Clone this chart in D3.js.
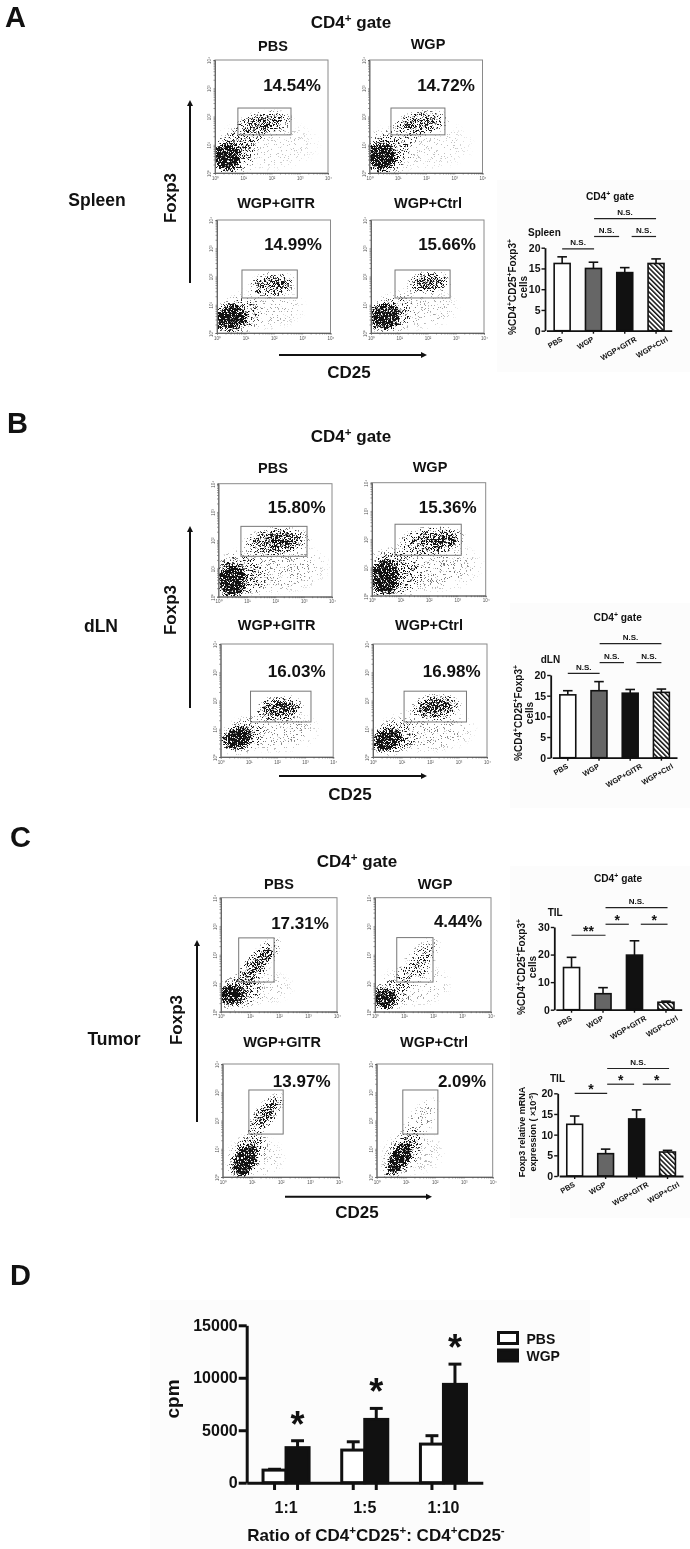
<!DOCTYPE html>
<html>
<head>
<meta charset="utf-8">
<script src="https://cdnjs.cloudflare.com/ajax/libs/d3/7.8.5/d3.min.js"></script>
<style>
  html, body { margin: 0; padding: 0; background: #fff; }
  svg { display: block; filter: blur(0.35px); }
  text { font-family: "Liberation Sans", Arial, sans-serif; font-weight: bold; fill: #111; }
</style>
</head>
<body>
<script>
var width = 690, height = 1549;

// bar chart values
var groups = ["PBS", "WGP", "WGP+GITR", "WGP+Ctrl"];
var spleenMean = [16.2, 15, 14, 16.2];
var spleenTop = [17.8, 16.5, 15.2, 17.3];
var dlnMean = [15.2, 16.2, 15.6, 15.8];
var dlnTop = [16.2, 18.4, 16.5, 16.6];
var tilMean = [15.3, 5.8, 19.8, 2.7];
var tilTop = [19, 8, 25, 3.1];
var mrnaMean = [12.5, 5.4, 13.8, 5.8];
var mrnaTop = [14.5, 6.5, 16, 6.2];

// significance bars: from group, to group, label, level on the y axis
var spleenSig = [[0, 1.02, "N.S.", 19.7], [1.02, 1.82, "N.S.", 22.7], [2.22, 3, "N.S.", 22.7], [1.02, 3, "N.S.", 27]];
var dlnSig = [[0, 1.02, "N.S.", 20.4], [1.02, 1.8, "N.S.", 23], [2.2, 3, "N.S.", 23], [1.02, 3, "N.S.", 27.6]];
var tilSig = [[0, 1.08, "**", 27], [1.08, 1.82, "*", 31], [2.2, 3.05, "*", 31], [1.08, 3.05, "N.S.", 37]];
var mrnaSig = [[0, 1.05, "*", 20], [1.05, 1.92, "*", 22.2], [2.2, 3.1, "*", 22.2], [1.05, 3.05, "N.S.", 26]];

// panel D
var ratios = ["1:1", "1:5", "1:10"];
var series = ["PBS", "WGP"];
var pbsCpm = [1200, 3110, 3680];
var pbsTop = [1280, 3900, 4480];
var wgpCpm = [3340, 6030, 9370];
var wgpTop = [4000, 7080, 11300];

// flow plots
var flowNames = ["PBS", "WGP", "WGP+GITR", "WGP+Ctrl"];
var spleenPct = ["14.54%", "14.72%", "14.99%", "15.66%"];
var dlnPct = ["15.80%", "15.36%", "16.03%", "16.98%"];
var tumorPct = ["17.31%", "4.44%", "13.97%", "2.09%"];
var decades = [1, 10, 100, 1000, 10000];
var powerLabels = ["10\u2070", "10\u00b9", "10\u00b2", "10\u00b3", "10\u2074"];

// gates in log10 units: x0, x1, y0, y1
var spleenGates = [[.81, 2.69, 1.35, 2.3], [.76, 2.67, 1.35, 2.3], [.88, 2.83, 1.24, 2.23], [.85, 2.8, 1.24, 2.23]];
var dlnGates = [[.79, 3.12, 1.43, 2.49], [.81, 3.14, 1.43, 2.53], [1.06, 3.21, 1.24, 2.33], [1.09, 3.28, 1.24, 2.33]];
var tumorGates = [[.61, 1.83, 1.04, 2.59], [.75, 2, 1.04, 2.6], [.9, 2.08, 1.52, 3.08], [.9, 2.11, 1.52, 3.08]];

// cell populations estimated by eye: log x, log y, spread x, spread y, tilt, density
var spleenCells = [
  [[.42, .58, .62, .6, 0, 1], [.6, .7, 1, .9, 0, .25], [1.2, 1.35, .9, .6, -40, .2], [1.75, 1.75, 1.1, .5, -8, .36], [1.7, 1.78, .75, .27, -8, .3], [1.8, 1, 2, 1, 0, .07]],
  [[.42, .58, .62, .6, 0, 1], [.6, .7, 1, .9, 0, .25], [1.2, 1.35, .9, .6, -40, .18], [1.85, 1.78, 1.05, .48, -8, .36], [1.85, 1.8, .8, .25, -8, .3], [1.8, 1, 2, 1, 0, .07]],
  [[.5, .55, .68, .55, -15, 1], [.7, .6, 1, .75, -15, .25], [1.95, 1.72, .9, .48, -5, .42], [2, 1.75, .65, .25, -5, .36], [1.7, .9, 1.5, .85, 0, .1]],
  [[.5, .6, .66, .55, -15, 1], [.7, .65, 1, .75, -15, .25], [2.05, 1.78, .85, .45, -5, .42], [2.05, 1.8, .6, .25, -5, .36], [1.7, .9, 1.5, .85, 0, .1]]
];
var dlnCells = [
  [[.48, .59, .6, .7, 0, 1], [.7, .7, 1.1, .95, 0, .28], [2.05, 1.95, 1.25, .55, -5, .5], [2.2, 1.97, .85, .28, -3, .42], [2, 1.05, 2, 1, 0, .14]],
  [[.46, .65, .6, .75, 0, 1], [.7, .75, 1.15, 1, 0, .32], [2.1, 1.95, 1.25, .55, -5, .5], [2.5, 1.98, .6, .28, -3, .45], [2, 1.05, 2, 1, 0, .15]],
  [[.61, .67, .62, .45, -20, 1], [.75, .72, .95, .65, -20, .25], [2.1, 1.73, .9, .5, -5, .52], [2.15, 1.73, .65, .28, -5, .48], [1.9, .95, 1.7, .85, 0, .14]],
  [[.5, .62, .62, .48, -15, 1], [.7, .7, .95, .68, -15, .28], [2.2, 1.77, .95, .5, -5, .52], [2.2, 1.8, .7, .27, -5, .48], [1.9, .95, 1.8, .85, 0, .14]]
];
var tumorCells = [
  [[.37, .59, .6, .42, -5, 1], [.55, .65, 1, .65, -10, .28], [1.23, 1.64, 1.25, .45, -50, .46], [1.35, 1.75, .75, .26, -50, .36], [1.3, .85, 1.3, .7, 0, .08]],
  [[.34, .47, .52, .42, -5, 1], [.5, .6, .85, .62, -10, .22], [1.44, 1.65, 1.25, .5, -52, .24], [1.65, 1.85, .5, .2, -55, .24], [1.4, .95, 1.3, .85, 0, .1]],
  [[.77, .6, .72, .46, -62, 1], [.85, .8, 1.05, .62, -60, .3], [1.48, 2.2, .95, .42, -52, .44], [1.55, 2.28, .6, .2, -52, .36], [1.1, .7, 1.15, .85, 0, .08]],
  [[.8, .68, .82, .36, -58, 1], [.9, .8, 1.15, .6, -58, .28], [1.45, 1.9, 1.15, .5, -55, .14], [1.25, .85, 1.2, .85, 0, .08]]
];

// layout
var flowPanels = [
  { names: flowNames, pct: spleenPct, gates: spleenGates, cells: spleenCells,
    boxes: [[215, 60, 113, 113], [369.5, 60, 113, 113], [217, 220, 113.5, 113], [371, 220, 113, 113]],
    nameAt: [[273, 51], [428, 49], [276, 208], [428, 208]],
    pctAt: [[292, 91], [446, 91], [293, 250], [447, 250]] },
  { names: flowNames, pct: dlnPct, gates: dlnGates, cells: dlnCells,
    boxes: [[218.5, 483.7, 113.5, 113], [372, 482.7, 113.7, 113], [220.7, 644, 112.5, 113], [373, 644, 114, 113]],
    nameAt: [[273, 473], [430, 471.7], [276.7, 630], [429, 630]],
    pctAt: [[296.7, 513], [447.7, 513], [296.7, 676.7], [451.7, 676.7]] },
  { names: flowNames, pct: tumorPct, gates: tumorGates, cells: tumorCells,
    boxes: [[221, 897.7, 116, 114], [375, 897.7, 116, 114], [222.7, 1064, 116.3, 113], [376.7, 1064, 116, 113]],
    nameAt: [[279, 889], [435, 889], [282, 1047], [434, 1047]],
    pctAt: [[300, 929], [458, 926.7], [301.7, 1086.7], [462, 1086.7]] }
];

var svg = d3.select("body").append("svg")
  .attr("width", width)
  .attr("height", height);
var defs = svg.append("defs");

// soft ellipse used for the density of a population
var grad = defs.append("radialGradient").attr("id", "blob");
grad.append("stop").attr("offset", "0").attr("stop-color", "#000").attr("stop-opacity", 1);
grad.append("stop").attr("offset", ".6").attr("stop-color", "#000").attr("stop-opacity", .92);
grad.append("stop").attr("offset", "1").attr("stop-color", "#000").attr("stop-opacity", 0);

// turns density into speckle, so the clouds read as dots
var speckle = defs.append("filter").attr("id", "speckle")
  .attr("filterUnits", "userSpaceOnUse")
  .attr("x", 0).attr("y", 0).attr("width", width).attr("height", height)
  .attr("color-interpolation-filters", "sRGB");
speckle.append("feTurbulence").attr("type", "fractalNoise").attr("baseFrequency", 1.7)
  .attr("numOctaves", 1).attr("seed", 7).attr("result", "noise");
speckle.append("feColorMatrix").attr("in", "noise").attr("type", "matrix")
  .attr("values", "0 0 0 0 0  0 0 0 0 0  0 0 0 0 0  0 0 0 3 -1").attr("result", "grain");
speckle.append("feComposite").attr("in", "SourceAlpha").attr("in2", "grain")
  .attr("operator", "arithmetic").attr("k1", 0).attr("k2", 1).attr("k3", 1).attr("k4", -1).attr("result", "mix");
var sharpen = speckle.append("feComponentTransfer").attr("in", "mix").attr("result", "dots");
sharpen.append("feFuncA").attr("type", "linear").attr("slope", 4).attr("intercept", 0);
speckle.append("feFlood").attr("flood-color", "#111").attr("result", "ink");
speckle.append("feComposite").attr("in", "ink").attr("in2", "dots").attr("operator", "in");

// hatching of the WGP+Ctrl bars
var hatch = defs.append("pattern").attr("id", "hatch")
  .attr("patternUnits", "userSpaceOnUse")
  .attr("width", 3.4).attr("height", 3.4)
  .attr("patternTransform", "rotate(-45)");
hatch.append("rect").attr("width", 3.4).attr("height", 3.4).attr("fill", "#fff");
hatch.append("rect").attr("width", 1.5).attr("height", 3.4).attr("fill", "#111");

// faint paper tone behind the bar charts
[[497, 180, 193, 192], [510, 603, 180, 205], [510, 866, 180, 180], [510, 1046, 180, 172], [150, 1300, 440, 249]].forEach(function(r){
  svg.append("rect").attr("x", r[0]).attr("y", r[1]).attr("width", r[2]).attr("height", r[3]).attr("fill", "#fcfcfc");
});

// text with ^sup^ parts
function addText(x, y, str, size, anchor, rotate){
  var t = svg.append("text")
    .attr("text-anchor", anchor || "middle")
    .attr("font-size", size);
  if(rotate){
    t.attr("transform", "translate(" + x + "," + y + ") rotate(" + rotate + ")");
  }else{
    t.attr("x", x).attr("y", y);
  }
  var up = size * .36;
  str.split("^").forEach(function(part, i){
    if(!part) return;
    var sp = t.append("tspan").text(part);
    if(i % 2 == 1){
      sp.attr("font-size", size * .68).attr("dy", -up);
    }else if(i > 0){
      sp.attr("dy", up);
    }
  });
  return t;
}

function arrow(x1, y1, x2, y2){
  var a = Math.atan2(y2 - y1, x2 - x1), s = 6;
  svg.append("line").attr("x1", x1).attr("y1", y1)
    .attr("x2", x2 - Math.cos(a) * s).attr("y2", y2 - Math.sin(a) * s)
    .attr("stroke", "#111").attr("stroke-width", 2);
  var pts = [[x2, y2],
    [x2 - Math.cos(a) * s - Math.sin(a) * 3, y2 - Math.sin(a) * s + Math.cos(a) * 3],
    [x2 - Math.cos(a) * s + Math.sin(a) * 3, y2 - Math.sin(a) * s - Math.cos(a) * 3]];
  svg.append("polygon").attr("points", pts.join(" ")).attr("fill", "#111");
}

var clipId = 0;
function drawFlow(box, gate, cells){
  var x = d3.scaleLog().domain([1, 10000]).range([box[0], box[0] + box[2]]);
  var y = d3.scaleLog().domain([1, 10000]).range([box[1] + box[3], box[1]]);
  var g = svg.append("g");

  clipId++;
  defs.append("clipPath").attr("id", "clip" + clipId).append("rect")
    .attr("x", box[0]).attr("y", box[1]).attr("width", box[2]).attr("height", box[3]);

  g.append("g").attr("clip-path", "url(#clip" + clipId + ")")
    .append("g").attr("filter", "url(#speckle)")
    .selectAll("ellipse").data(cells).enter().append("ellipse")
    .attr("rx", function(d){ return x(Math.pow(10, d[2])) - x(1); })
    .attr("ry", function(d){ return y(1) - y(Math.pow(10, d[3])); })
    .attr("transform", function(d){
      return "translate(" + x(Math.pow(10, d[0])) + "," + y(Math.pow(10, d[1])) + ") rotate(" + d[4] + ")";
    })
    .attr("fill", "url(#blob)")
    .attr("opacity", function(d){ return d[5]; });

  // frame
  g.append("rect").attr("x", box[0]).attr("y", box[1]).attr("width", box[2]).attr("height", box[3])
    .attr("fill", "none").attr("stroke", "#8a8a8a").attr("stroke-width", 1);

  // gate
  g.append("rect")
    .attr("x", x(Math.pow(10, gate[0])))
    .attr("y", y(Math.pow(10, gate[3])))
    .attr("width", x(Math.pow(10, gate[1])) - x(Math.pow(10, gate[0])))
    .attr("height", y(Math.pow(10, gate[2])) - y(Math.pow(10, gate[3])))
    .attr("fill", "none").attr("stroke", "#777").attr("stroke-width", 1);

  var fmt = function(d){
    var i = decades.indexOf(d);
    return i < 0 ? "" : powerLabels[i];
  };
  var ax = g.append("g").attr("transform", "translate(0," + (box[1] + box[3]) + ")")
    .call(d3.axisBottom(x).tickValues(x.ticks()).tickFormat(fmt).tickSize(1.5).tickPadding(2));
  var ay = g.append("g").attr("transform", "translate(" + box[0] + ",0)")
    .call(d3.axisLeft(y).tickValues(y.ticks()).tickFormat(fmt).tickSize(1.5).tickPadding(2));
  [ax, ay].forEach(function(a){
    a.select(".domain").attr("stroke", "#666").attr("stroke-width", 1);
    a.selectAll(".tick line").attr("stroke", "#555").attr("stroke-width", .6);
    a.selectAll(".tick text").attr("font-size", 4.5).style("font-weight", "normal").style("fill", "#555");
  });
  ay.selectAll(".tick text").attr("transform", function(){
    return "rotate(-90," + d3.select(this).attr("x") + ",0)";
  }).attr("text-anchor", "middle").attr("dy", "-.1em");
}

flowPanels.forEach(function(p){
  p.boxes.forEach(function(b, i){
    drawFlow(b, p.gates[i], p.cells[i]);
    addText(p.nameAt[i][0], p.nameAt[i][1], p.names[i], 14.5);
    addText(p.pctAt[i][0], p.pctAt[i][1], p.pct[i], 17);
  });
});

// panel letters and flow labels
addText(5, 27, "A", 29, "start");
addText(7, 433, "B", 29, "start");
addText(10, 847, "C", 29, "start");
addText(10, 1285, "D", 29, "start");

addText(351, 28, "CD4^+^ gate", 17);
addText(351, 442, "CD4^+^ gate", 17);
addText(357, 867, "CD4^+^ gate", 17);

addText(97, 206, "Spleen", 17.5);
addText(101, 632, "dLN", 17.5);
addText(114, 1045, "Tumor", 17.5);

addText(176, 198, "Foxp3", 17, "middle", -90);
addText(176, 610, "Foxp3", 17, "middle", -90);
addText(182, 1020, "Foxp3", 17, "middle", -90);

arrow(190, 283, 190, 100);
arrow(190, 708, 190, 526);
arrow(197, 1122, 197, 940);
arrow(279, 355, 427, 355);
arrow(279, 776, 427, 776);
arrow(285, 1196.7, 432, 1196.7);

addText(349, 378, "CD25", 17);
addText(350, 800, "CD25", 17);
addText(357, 1218, "CD25", 17);

// small bar charts
function drawBars(c){
  var y = d3.scaleLinear().domain([0, c.max]).range([c.base, c.top]);
  var x = d3.scaleBand().domain(groups).range([c.left + 1.5, c.right]).paddingInner(.49).paddingOuter(.245);
  var at = d3.scaleLinear().domain([0, 3]).range([x(groups[0]) + x.bandwidth() / 2, x(groups[3]) + x.bandwidth() / 2]);
  var g = svg.append("g");
  var fills = ["#fff", "#666", "#111", "url(#hatch)"];

  var caps = g.selectAll(".err").data(groups).enter().append("g");
  caps.append("line")
    .attr("x1", function(d){ return x(d) + x.bandwidth() / 2; })
    .attr("x2", function(d){ return x(d) + x.bandwidth() / 2; })
    .attr("y1", function(d, i){ return y(c.mean[i]); })
    .attr("y2", function(d, i){ return y(c.high[i]); })
    .attr("stroke", "#111").attr("stroke-width", 1.6);
  caps.append("line")
    .attr("x1", function(d){ return x(d) + x.bandwidth() * .2; })
    .attr("x2", function(d){ return x(d) + x.bandwidth() * .8; })
    .attr("y1", function(d, i){ return y(c.high[i]); })
    .attr("y2", function(d, i){ return y(c.high[i]); })
    .attr("stroke", "#111").attr("stroke-width", 1.6);

  g.selectAll(".bar").data(groups).enter().append("rect")
    .attr("x", function(d){ return x(d); })
    .attr("y", function(d, i){ return y(c.mean[i]); })
    .attr("width", x.bandwidth())
    .attr("height", function(d, i){ return c.base - y(c.mean[i]); })
    .attr("fill", function(d, i){ return fills[i]; })
    .attr("stroke", "#111").attr("stroke-width", 1.6);

  var ay = g.append("g").attr("transform", "translate(" + c.left + ",0)")
    .call(d3.axisLeft(y).tickValues(c.ticks).tickSize(3.5).tickSizeOuter(0).tickPadding(1));
  var ax = g.append("g").attr("transform", "translate(0," + c.base + ")")
    .call(d3.axisBottom(x).tickSize(3).tickSizeOuter(0).tickFormat(""));
  [ax, ay].forEach(function(a){
    a.select(".domain").attr("stroke", "#111").attr("stroke-width", 1.8);
    a.selectAll(".tick line").attr("stroke", "#111").attr("stroke-width", 1.4);
  });
  ay.selectAll(".tick text").attr("font-size", 10.5).style("fill", "#111");

  groups.forEach(function(d){
    addText(x(d) + x.bandwidth() / 2 + (d.length - 3) * 2.3 + 1, c.base + 10, d, 7.5, "end", -30);
  });

  c.sig.forEach(function(s){
    var yy = y(s[3]);
    g.append("line").attr("x1", at(s[0])).attr("x2", at(s[1])).attr("y1", yy).attr("y2", yy)
      .attr("stroke", "#222").attr("stroke-width", 1.2);
    var star = s[2].charAt(0) == "*";
    addText((at(s[0]) + at(s[1])) / 2, star ? yy + 1 : yy - 3.5, s[2], star ? 14 : 8);
  });

  if(c.title) addText(c.titleX, c.titleY, c.title, 10.2);
  addText(c.tagX, c.tagY, c.tag, 10, "start");
  addText(c.labelX, c.labelY, c.label1, c.labelSize, "middle", -90);
  addText(c.labelX + 11, c.labelY, c.label2, c.labelSize, "middle", -90);
}

drawBars({ mean: spleenMean, high: spleenTop, sig: spleenSig, max: 20, ticks: [0, 5, 10, 15, 20],
  left: 545, right: 671.7, base: 330.7, top: 247.7,
  title: "CD4^+^ gate", titleX: 610, titleY: 200, tag: "Spleen", tagX: 528, tagY: 236,
  label1: "%CD4^+^CD25^+^Foxp3^+^", label2: "cells", labelX: 516, labelY: 287, labelSize: 10 });
drawBars({ mean: dlnMean, high: dlnTop, sig: dlnSig, max: 20, ticks: [0, 5, 10, 15, 20],
  left: 550.7, right: 677, base: 757.7, top: 675,
  title: "CD4^+^ gate", titleX: 617.7, titleY: 621, tag: "dLN", tagX: 540.7, tagY: 663,
  label1: "%CD4^+^CD25^+^Foxp3^+^", label2: "cells", labelX: 521.7, labelY: 713, labelSize: 10 });
drawBars({ mean: tilMean, high: tilTop, sig: tilSig, max: 30, ticks: [0, 10, 20, 30],
  left: 554.3, right: 681.7, base: 1009.7, top: 927,
  title: "CD4^+^ gate", titleX: 618, titleY: 882, tag: "TIL", tagX: 547.7, tagY: 916,
  label1: "%CD4^+^CD25^+^Foxp3^+^", label2: "cells", labelX: 525, labelY: 967, labelSize: 10 });
drawBars({ mean: mrnaMean, high: mrnaTop, sig: mrnaSig, max: 20, ticks: [0, 5, 10, 15, 20],
  left: 557.7, right: 683, base: 1176, top: 1093.3,
  title: "", titleX: 618, titleY: 1040, tag: "TIL", tagX: 550, tagY: 1082,
  label1: "Foxp3 relative mRNA", label2: "expression ( \u00d710^-5^)", labelX: 525, labelY: 1132, labelSize: 9 });

// panel D
var x0 = d3.scaleBand().domain(ratios).range([246.7, 482.8]).paddingInner(.415).paddingOuter(.2075);
var x1 = d3.scaleBand().domain(series).range([0, x0.bandwidth()]);
var yD = d3.scaleLinear().domain([0, 15000]).range([1482.7, 1325.3]);
var gD = svg.append("g");

[[pbsCpm, pbsTop, "PBS", "#fff"], [wgpCpm, wgpTop, "WGP", "#111"]].forEach(function(s){
  var errs = gD.selectAll(".e" + s[2]).data(ratios).enter().append("g");
  errs.append("line")
    .attr("x1", function(d){ return x0(d) + x1(s[2]) + x1.bandwidth() / 2; })
    .attr("x2", function(d){ return x0(d) + x1(s[2]) + x1.bandwidth() / 2; })
    .attr("y1", function(d, i){ return yD(s[0][i]); })
    .attr("y2", function(d, i){ return yD(s[1][i]); })
    .attr("stroke", "#111").attr("stroke-width", 3);
  errs.append("line")
    .attr("x1", function(d){ return x0(d) + x1(s[2]) + x1.bandwidth() * .22; })
    .attr("x2", function(d){ return x0(d) + x1(s[2]) + x1.bandwidth() * .78; })
    .attr("y1", function(d, i){ return yD(s[1][i]); })
    .attr("y2", function(d, i){ return yD(s[1][i]); })
    .attr("stroke", "#111").attr("stroke-width", 3);
  gD.selectAll(".b" + s[2]).data(ratios).enter().append("rect")
    .attr("x", function(d){ return x0(d) + x1(s[2]); })
    .attr("y", function(d, i){ return yD(s[0][i]); })
    .attr("width", x1.bandwidth())
    .attr("height", function(d, i){ return yD(0) - yD(s[0][i]); })
    .attr("fill", s[3])
    .attr("stroke", "#111").attr("stroke-width", 3);
});

var ayD = gD.append("g").attr("transform", "translate(246.7,0)")
  .call(d3.axisLeft(yD).tickValues([0, 5000, 10000, 15000]).tickFormat(d3.format("d")).tickSize(8).tickSizeOuter(0).tickPadding(1));
var axD = gD.append("g").attr("transform", "translate(0,1482.7)")
  .call(d3.axisBottom(x0).tickSize(0).tickSizeOuter(0).tickFormat(""));
[axD, ayD].forEach(function(a){
  a.select(".domain").attr("stroke", "#111").attr("stroke-width", 3);
  a.selectAll(".tick line").attr("stroke", "#111").attr("stroke-width", 3);
});
ayD.selectAll(".tick text").attr("font-size", 16).style("fill", "#111");

ratios.forEach(function(r, i){
  series.forEach(function(s){
    gD.append("line")
      .attr("x1", x0(r) + x1(s) + x1.bandwidth() / 2).attr("x2", x0(r) + x1(s) + x1.bandwidth() / 2)
      .attr("y1", 1482.7).attr("y2", 1490)
      .attr("stroke", "#111").attr("stroke-width", 3);
  });
  addText(x0(r) + x0.bandwidth() / 2, 1513, r, 16);
  addText(x0(r) + x1("WGP") + x1.bandwidth() / 2, yD(wgpTop[i]) - 4, "*", 36);
});

addText(179, 1399, "cpm", 19, "middle", -90);
addText(376, 1540.5, "Ratio of CD4^+^CD25^+^: CD4^+^CD25^-^", 17);

series.forEach(function(s, i){
  gD.append("rect").attr("x", 498.5).attr("y", 1332.5 + i * 17.5).attr("width", 19).attr("height", 11)
    .attr("fill", i ? "#111" : "#fff").attr("stroke", "#111").attr("stroke-width", 3);
  addText(526.5, 1343.5 + i * 17, s, 14, "start");
});
</script>
</body>
</html>
